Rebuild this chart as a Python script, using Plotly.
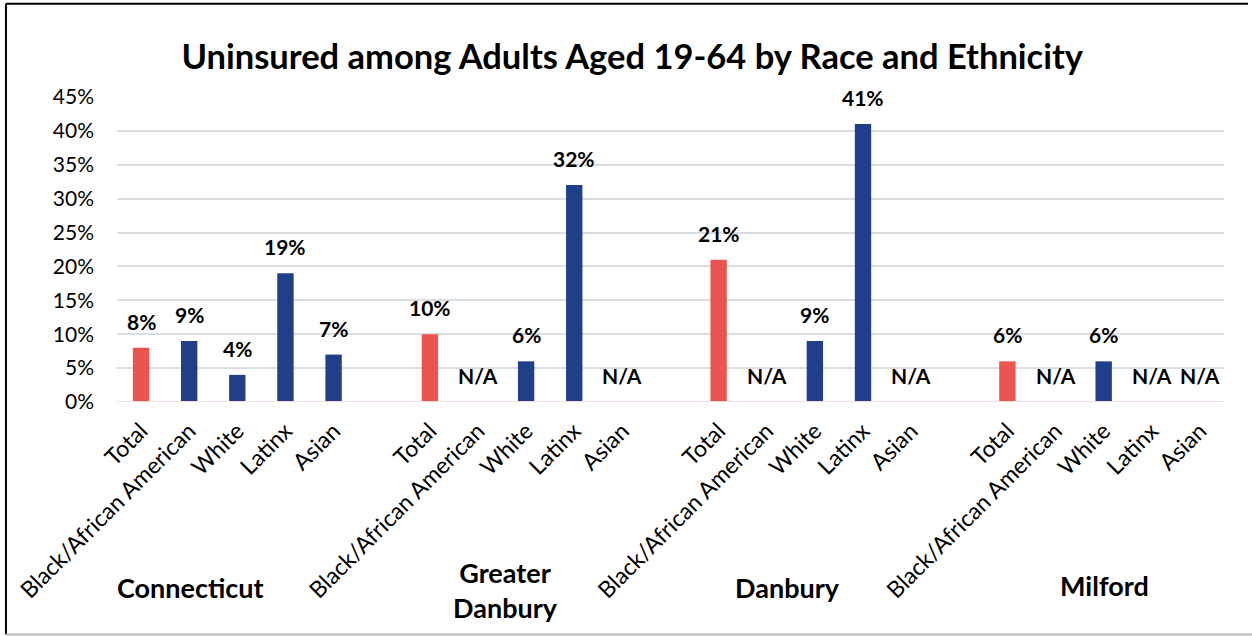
import plotly.graph_objects as go

# Regions and the race/ethnicity breakdown shown within each
regions = ["Connecticut", "Greater<br>Danbury", "Danbury", "Milford"]
groups = ["Total", "Black/African American", "White", "Latinx", "Asian"]

# Uninsured share (%) per region, in the order of `groups`; None = N/A
connecticut = [8, 9, 4, 19, 7]
greater_danbury = [10, None, 6, 32, None]
danbury = [21, None, 9, 41, None]
milford = [6, None, 6, None, None]
series = [connecticut, greater_danbury, danbury, milford]

# y-axis ticks
y_ticks = [0, 5, 10, 15, 20, 25, 30, 35, 40, 45]
y_tick_text = [f"{v}%" for v in y_ticks]

RED = "#EA5550"
BLUE = "#203F8A"
FONT = "Lato"

# one slot per bar, with an empty slot between regions
xs, vals, labels, colors = [], [], [], []
for gi, vals_region in enumerate(series):
    base = gi * (len(groups) + 1)
    for k, v in enumerate(vals_region):
        xs.append(base + k)
        vals.append(v)
        labels.append(groups[k])
        colors.append(RED if k == 0 else BLUE)

fig = go.Figure()
fig.add_trace(go.Bar(
    x=xs,
    y=[v if v is not None else 0 for v in vals],
    marker=dict(color=colors, line=dict(width=0)),
    width=0.34,
    hoverinfo="skip",
))

annotations = []
# value labels above bars ("N/A" where no data)
for x, v in zip(xs, vals):
    annotations.append(dict(
        x=x, y=v if v is not None else 0, xref="x", yref="y",
        text=f"<b>{v}%</b>" if v is not None else "<b>N/A</b>",
        showarrow=False, yanchor="bottom", yshift=12,
        font=dict(family=FONT, size=21, color="#000000"),
    ))

# region labels below the category labels
region_x = [1.02, 7.57, 13.43, 20.02]
region_y = [-0.607, -0.615, -0.607, -0.60]
for name, rx, ry in zip(regions, region_x, region_y):
    annotations.append(dict(
        x=rx, y=ry, xref="x", yref="paper",
        text=f"<b>{name}</b>", showarrow=False,
        xanchor="center", yanchor="middle",
        font=dict(family=FONT, size=27, color="#000000"),
    ))

shapes = [
    # zero line
    dict(type="line", xref="paper", yref="y", x0=0, x1=1, y0=0, y1=0,
         line=dict(color="#FADCDC", width=2), layer="above"),
    # chart frame: top, left (dark) and bottom (grey)
    dict(type="line", xref="paper", yref="paper", x0=-0.1003, x1=1.0217,
         y0=1.306, y1=1.306, line=dict(color="#000000", width=2)),
    dict(type="line", xref="paper", yref="paper", x0=-0.1003, x1=-0.1003,
         y0=1.306, y1=-0.762, line=dict(color="#000000", width=2)),
    dict(type="line", xref="paper", yref="paper", x0=-0.1003, x1=1.03,
         y0=-0.762, y1=-0.762, line=dict(color="#BBBBBB", width=2)),
]

fig.update_layout(
    width=1252, height=636,
    margin=dict(l=117, r=28, t=97, b=234),
    paper_bgcolor="#FFFFFF", plot_bgcolor="#FFFFFF",
    showlegend=False,
    title=dict(
        text="<b>Uninsured among Adults Aged 19-64 by Race and Ethnicity</b>",
        x=0.505, xanchor="center", y=1 - 57 / 636, yanchor="middle",
        font=dict(family=FONT, size=34.5, color="#000000"),
    ),
    xaxis=dict(
        range=[-0.5, 22.5],
        tickmode="array", tickvals=xs, ticktext=labels,
        tickangle=-45, ticks="", showgrid=False, zeroline=False,
        showline=False,
        tickfont=dict(family=FONT, size=23, color="#000000"),
        ticklabelstandoff=10,
    ),
    yaxis=dict(
        range=[0, 45],
        tickmode="array", tickvals=y_ticks, ticktext=y_tick_text,
        showgrid=True, gridcolor="#D9DEE4", gridwidth=2,
        zeroline=False, showline=False, ticks="",
        tickfont=dict(family=FONT, size=21, color="#000000"),
        ticklabelstandoff=22,
    ),
    annotations=annotations,
    shapes=shapes,
    font=dict(family=FONT),
)

fig.write_html("out.html")
